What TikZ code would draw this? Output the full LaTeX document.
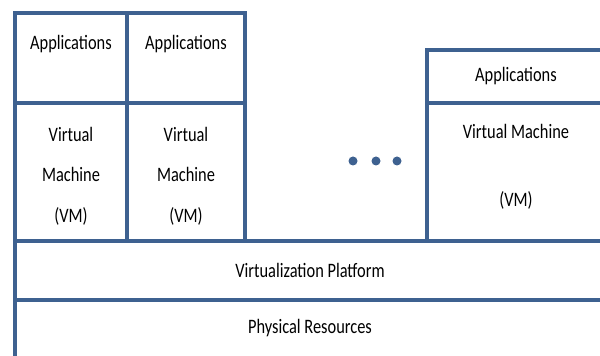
\documentclass[tikz,border=0pt]{standalone}
\usepackage{fontspec}
\setmainfont{Carlito}
\newfontfamily\narrowfamily[FakeStretch=0.8]{Carlito}
\usetikzlibrary{positioning}

\definecolor{frameblue}{HTML}{3E6190}

\begin{document}
\begin{tikzpicture}[
  x=1pt, y=1pt,
  cell/.style={rectangle, draw=frameblue, line width=4pt, inner sep=0pt, align=center, font=\vmfont},
  txt/.style={inner sep=0pt, align=center, font=\vmfont},
  dot/.style={fill=frameblue}
]
\newcommand{\vmfont}{\narrowfamily\fontsize{20.5}{40.5}\selectfont}
\useasboundingbox (0,0) rectangle (600,356);
\clip (0,0) rectangle (600,356);

% Guest machines
\node[cell, minimum width=112pt, minimum height=90pt] (app1) at (71,298) {};
\node[cell, minimum width=112pt, minimum height=138pt] (vm1) at (71,184) {};
\node[cell, minimum width=118pt, minimum height=90pt] (app2) at (186,298) {};
\node[cell, minimum width=118pt, minimum height=138pt] (vm2) at (186,184) {};
\node[cell, minimum width=178pt, minimum height=53pt] (app3) at (516,279.5) {Applications};
\node[cell, minimum width=178pt, minimum height=138pt] (vm3) at (516,184) {};

% Texts
\node[txt] (app1t) at (71,312) {Applications};
\node[txt] (app2t) at (186,312) {Applications};
\node[txt] (vm1t) at (71,180) {Virtual\\Machine\\(VM)};
\node[txt] (vm2t) at (186,180) {Virtual\\Machine\\(VM)};
\node[txt] (vm3t) at (516,189) {Virtual Machine\\[27.5pt](VM)};

% More machines
\foreach \x in {353,376,397}
  \fill[dot] (\x,195) circle (4.5pt);

% Host layers
\node[cell, minimum width=590pt, minimum height=59pt] (platform) at (310,85.5) {Virtualization Platform};
\node[cell, minimum width=590pt, minimum height=60pt] (physical) at (310,26) {};
\node[txt] (physicalt) at (310,28) {Physical Resources};

\end{tikzpicture}
\end{document}
